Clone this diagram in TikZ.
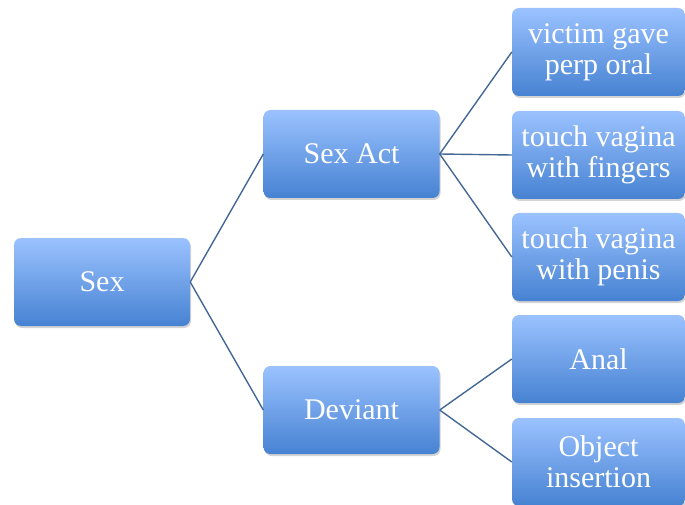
\documentclass[tikz,border=0pt]{standalone}
\usepackage{fontspec}
\setmainfont{Liberation Serif}
\usepackage{tikz}
\usetikzlibrary{shadows,positioning}
\usepackage{xcolor}
\definecolor{boxtop}{RGB}{155,194,255}
\definecolor{boxbot}{RGB}{70,130,210}
\definecolor{linkblue}{RGB}{68,104,150}
\tikzstyle{catbox} = [rounded corners=7pt, top color=boxtop, bottom color=boxbot,
  text=white, align=center, inner sep=0pt, minimum height=88pt,
  font=\fontsize{30}{31}\selectfont,
  drop shadow={opacity=0.35, shadow xshift=1pt, shadow yshift=-2pt}]
\tikzstyle{bigbox} = [catbox, minimum width=176pt]
\tikzstyle{leafbox} = [catbox, minimum width=173pt]
\tikzstyle{link} = [line width=1.4pt, color=linkblue]

\begin{document}
\begin{tikzpicture}[x=1pt, y=-1pt]
\useasboundingbox (0,0) rectangle (685,505);

% Root and middle level
\node[bigbox] (sex) at (102,282) {Sex};
\node[bigbox] (act) at (351.5,154) {Sex Act};
\node[bigbox] (dev) at (351.5,410) {Deviant};

% Leaves
\node[leafbox] (oral) at (598.5,52) {victim gave\\perp oral};
\node[leafbox] (fing) at (598.5,155) {touch vagina\\with fingers};
\node[leafbox] (pen) at (598.5,257) {touch vagina\\with penis};
\node[leafbox] (anal) at (598.5,359) {Anal};
\node[leafbox] (obj) at (598.5,462) {Object\\insertion};

% Links
\draw[link] (sex.east) -- (act.west);
\draw[link] (sex.east) -- (dev.west);
\foreach \leaf in {oral,fing,pen}
  \draw[link] (act.east) -- (\leaf.west);
\foreach \leaf in {anal,obj}
  \draw[link] (dev.east) -- (\leaf.west);
\end{tikzpicture}
\end{document}
